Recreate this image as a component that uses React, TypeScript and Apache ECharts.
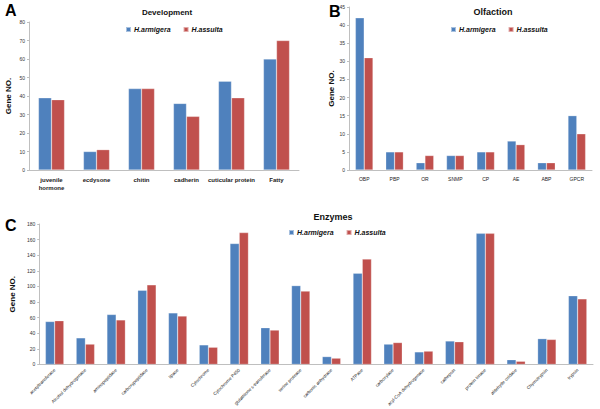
import React, { useEffect, useRef } from "react";
import * as echarts from "echarts";

const devCategories = ["juvenile\nhormone", "ecdysone", "chitin", "cadherin", "cuticular protein", "Fatty"];
const devArmigera = [39, 10, 44, 36, 48, 60];
const devAssulta = [38, 11, 44, 29, 39, 70];

const olfCategories = ["OBP", "PBP", "OR", "SNMP", "CP", "AE", "ABP", "GPCR"];
const olfArmigera = [42, 5, 2, 4, 5, 8, 2, 15];
const olfAssulta = [31, 5, 4, 4, 5, 7, 2, 10];

const enzCategories = [
  "acetyltransferase", "Alcohol dehydrogenase", "aminopeptidase", "carboxypeptidase", "lipase",
  "Cytochrome", "Cytochrome P450", "glutathione s-transferase", "serine protease", "carbonic anhydrase",
  "ATPase", "carboxylase", "acyl-CoA dehydrogenase", "cathepsin", "protein kinase",
  "aldehyde oxidase", "Chymotrypsin", "trypsin",
];
const enzArmigera = [55, 34, 64, 95, 66, 25, 155, 47, 101, 10, 117, 26, 16, 30, 168, 6, 33, 88];
const enzAssulta = [56, 26, 57, 102, 62, 22, 169, 44, 94, 8, 135, 28, 17, 29, 168, 4, 32, 84];

const BLUE = "#4F81BD";
const RED = "#C0504D";
const FONT = "Liberation Sans, Arial, sans-serif";

export default function App() {
  const ref = useRef<HTMLDivElement>(null);
  useEffect(() => {
    if (!ref.current) return;
    const chart = echarts.init(ref.current, undefined, { renderer: "svg" });
    const axisLine = { show: true, lineStyle: { color: "#BFBFBF", width: 1 } };
    const yAxisBase = {
      type: "value" as const,
      axisLine,
      axisTick: { show: true, length: 2, lineStyle: { color: "#BFBFBF" } },
      splitLine: { show: false },
      axisLabel: { fontSize: 5, color: "#333", fontFamily: FONT, margin: 4 },
      name: "Gene NO.",
      nameLocation: "middle" as const,
      nameRotate: 90,
      nameTextStyle: { fontSize: 8, fontWeight: "bold" as const, color: "#111", fontFamily: FONT },
    };
    const xAxisBase = {
      type: "category" as const,
      axisLine,
      axisTick: { show: false },
      splitLine: { show: false },
    };
    const barStyle = (c: string) => ({ color: c, borderColor: "rgba(255,255,255,0.5)", borderWidth: 0.5 });
    const legendBase = {
      itemWidth: 5,
      itemHeight: 5,
      icon: "rect",
      itemGap: 12,
      textStyle: { fontSize: 7, fontStyle: "italic" as const, fontWeight: "bold" as const, color: "#111", fontFamily: FONT, padding: [0, 0, 0, -2] },
      data: ["H.armigera", "H.assulta"],
    };
    const titleStyle = { fontSize: 8, fontWeight: "bold" as const, color: "#111", fontFamily: FONT };
    chart.setOption({
      animation: false,
      backgroundColor: "#fff",
      title: [
        { text: "A", left: 0, top: -3, textStyle: { fontSize: 16, fontWeight: "bold", color: "#000", fontFamily: FONT } },
        { text: "Development", left: 162, top: 3, textAlign: "center", textStyle: titleStyle },
        { text: "B", left: 324, top: -2, textStyle: { fontSize: 16, fontWeight: "bold", color: "#000", fontFamily: FONT } },
        { text: "Olfaction", left: 488, top: 2, textAlign: "center", textStyle: { ...titleStyle, fontSize: 9 } },
        { text: "C", left: 0, top: 212, textStyle: { fontSize: 16, fontWeight: "bold", color: "#000", fontFamily: FONT } },
        { text: "Enzymes", left: 328, top: 207, textAlign: "center", textStyle: { ...titleStyle, fontSize: 9 } },
      ],
      legend: [
        { ...legendBase, left: 120, top: 21 },
        { ...legendBase, left: 445, top: 21 },
        { ...legendBase, left: 283, top: 224 },
      ],
      grid: [
        { left: 29, top: 22, width: 270, height: 148 },
        { left: 349, top: 7, width: 243, height: 163 },
        { left: 29, top: 224, width: 564, height: 144 },
      ],
      xAxis: [
        {
          ...xAxisBase, gridIndex: 0, data: devCategories,
          axisLabel: { fontSize: 6, fontWeight: "bold", color: "#222", fontFamily: FONT, interval: 0, margin: 6, lineHeight: 8 },
        },
        {
          ...xAxisBase, gridIndex: 1, data: olfCategories,
          axisLabel: { fontSize: 5, color: "#222", fontFamily: FONT, interval: 0, margin: 6 },
        },
        {
          ...xAxisBase, gridIndex: 2, data: enzCategories,
          axisLabel: { fontSize: 4.5, color: "#222", fontFamily: FONT, interval: 0, rotate: 45, margin: 5 },
        },
      ],
      yAxis: [
        { ...yAxisBase, gridIndex: 0, min: 0, max: 80, interval: 10, nameGap: 17 },
        { ...yAxisBase, gridIndex: 1, min: 0, max: 45, interval: 5, nameGap: 14 },
        { ...yAxisBase, gridIndex: 2, min: 0, max: 180, interval: 20, nameGap: 17 },
      ],
      series: [
        { type: "bar", name: "H.armigera", xAxisIndex: 0, yAxisIndex: 0, data: devArmigera, itemStyle: barStyle(BLUE), barGap: "0%", barCategoryGap: "42%" },
        { type: "bar", name: "H.assulta", xAxisIndex: 0, yAxisIndex: 0, data: devAssulta, itemStyle: barStyle(RED), barGap: "0%", barCategoryGap: "42%" },
        { type: "bar", name: "H.armigera", xAxisIndex: 1, yAxisIndex: 1, data: olfArmigera, itemStyle: barStyle(BLUE), barGap: "0%", barCategoryGap: "42%" },
        { type: "bar", name: "H.assulta", xAxisIndex: 1, yAxisIndex: 1, data: olfAssulta, itemStyle: barStyle(RED), barGap: "0%", barCategoryGap: "42%" },
        { type: "bar", name: "H.armigera", xAxisIndex: 2, yAxisIndex: 2, data: enzArmigera, itemStyle: barStyle(BLUE), barGap: "0%", barCategoryGap: "40%" },
        { type: "bar", name: "H.assulta", xAxisIndex: 2, yAxisIndex: 2, data: enzAssulta, itemStyle: barStyle(RED), barGap: "0%", barCategoryGap: "40%" },
      ],
    });
    return () => chart.dispose();
  }, []);
  return <div ref={ref} style={{ position: "absolute", left: 0, top: 0, width: 600, height: 409 }} />;
}
